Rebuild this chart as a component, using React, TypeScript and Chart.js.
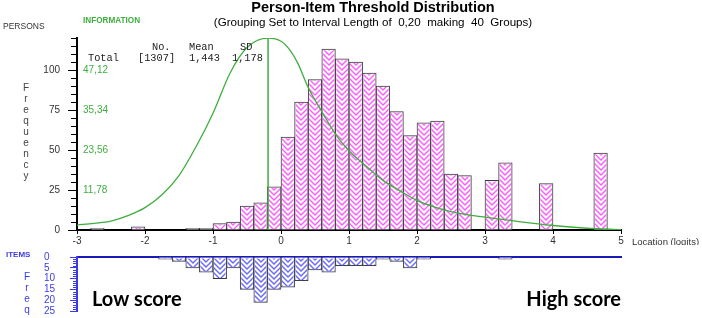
import React, { useEffect, useRef } from 'react';
import { Chart, registerables } from 'chart.js';

Chart.register(...registerables);

// ---------------- data ----------------
const BIN_START = -3;
const BIN_WIDTH = 0.2;
// persons per 0.2-logit bin, bins starting at -3.0, -2.8, ... 4.8
const PERSON_COUNTS = [
  0, 1, 0, 0, 2, 0, 0, 0,
  1, 1, 4, 5, 15, 17, 27,
  58, 80, 94, 113, 107, 105, 98, 90, 74, 59, 67, 68, 35, 34,
  0, 31, 42, 0, 0, 29, 0, 0, 0, 48, 0,
];
// item thresholds per bin (same bins)
const ITEM_COUNTS = [
  0, 0, 0, 0, 0, 0, 1, 2,
  5, 7, 10, 5, 15, 21, 15,
  14, 11, 6, 7, 4, 4, 4, 1, 2, 5, 1,
  0, 0, 0, 0, 0, 1, 0, 0, 0, 0, 0, 0, 0, 0,
];
// test information curve (information units, right-hand green scale)
const INFO_X = [-3, -2.75, -2.5, -2.25, -2, -1.75, -1.5, -1.25, -1, -0.75, -0.5, -0.19, 0, 0.14, 0.25, 0.4, 0.6, 0.8, 1, 1.25, 1.5, 1.75, 2, 2.25, 2.5, 2.75, 3, 3.5, 4, 4.5, 5];
const INFO_Y = [1.46, 1.98, 2.64, 4.24, 6.6, 10.37, 16.02, 24.5, 34.4, 46.18, 53.72, 56.5, 55.6, 52.77, 49.0, 41.94, 34.87, 28.27, 23.32, 18.85, 14.61, 11.54, 8.72, 6.83, 5.42, 4.48, 3.77, 2.45, 1.32, 0.52, 0.09];
const PEAK_X = -0.19;

const X_MIN = -3;
const X_MAX = 5;
const X_TICKS = [-3, -2, -1, 0, 1, 2, 3, 4, 5];
const PERSON_MAX = 120;
const PERSON_TICKS = [0, 25, 50, 75, 100];
const PERSON_MINOR_STEP = 5;
const INFO_PER_PERSON = 0.4712;
const INFO_TICKS = [11.78, 23.56, 35.34, 47.12];
const ITEM_MAX = 25;
const ITEM_TICKS = [0, 5, 10, 15, 20, 25];
const ITEM_MINOR_STEP = 1;

const STAT_HEAD = ['No.', 'Mean', 'SD'];
const STAT_ROW = 'Total';
const STAT_N = 1307;
const STAT_MEAN = 1.443;
const STAT_SD = 1.178;

const TITLE = 'Person-Item Threshold Distribution';
const SUBTITLE = '(Grouping Set to Interval Length of  0,20  making  40  Groups)';
const FREQ_WORD = 'Frequency';
const FREQ_SHORT = 'Freq';

// ---------------- styles ----------------
const SANS = '"Liberation Sans", Arial, sans-serif';
const MONO = '"Liberation Mono", "Courier New", monospace';
const GREEN = '#3fae3f';
const PINK = '#ff5cff';
const BLUE_TEXT = '#3c3ce6';
const BLUE_LINE = '#1a1ab8';
const BLUE_HATCH = '#6a6aff';
const BAR_EDGE = '#3a3a3a';

const comma = (v: number, d: number) => v.toFixed(d).replace('.', ',');

function hatchBar(ctx: CanvasRenderingContext2D, el: any, color: string) {
  const { x, y, base, width } = el.getProps(['x', 'y', 'base', 'width'], true);
  const l = x - width / 2;
  const r = x + width / 2;
  const t = Math.min(y, base);
  const b = Math.max(y, base);
  if (b - t < 1.5) return;
  ctx.save();
  ctx.beginPath();
  ctx.rect(l + 1, t + 1, r - l - 2, b - t - 1.5);
  ctx.clip();
  ctx.strokeStyle = color;
  ctx.lineWidth = 1.4;
  const m = Math.round((l + r) / 2);
  const hw = m - l;
  const gap = 5;
  ctx.beginPath();
  for (let yy = Math.round(b) + gap * 2; yy > t - hw - gap * 2; yy -= gap) {
    ctx.moveTo(l, yy - hw);
    ctx.lineTo(m, yy);
    ctx.lineTo(r, yy - (r - m));
  }
  ctx.stroke();
  ctx.restore();
}

const hatchPlugin = {
  id: 'hatch',
  afterDatasetDraw(chart: any, args: any) {
    const ds = chart.data.datasets[args.index];
    if (!ds.hatchColor) return;
    args.meta.data.forEach((el: any) => hatchBar(chart.ctx, el, ds.hatchColor));
  },
};

function minorTicks(chart: any, id: string, max: number, step: number, majors: number[], len: number, color: string) {
  const s = chart.scales[id];
  const ctx = chart.ctx;
  const x0 = chart.chartArea.left - 1;
  ctx.save();
  ctx.strokeStyle = color;
  ctx.lineWidth = 1;
  ctx.beginPath();
  for (let v = 0; v <= max + 1e-9; v += step) {
    if (majors.includes(v)) continue;
    const py = Math.round(s.getPixelForValue(v)) + 0.5;
    ctx.moveTo(x0 - len, py);
    ctx.lineTo(x0, py);
  }
  ctx.stroke();
  ctx.restore();
}

const topTextPlugin = {
  id: 'topText',
  afterDraw(chart: any) {
    const ctx = chart.ctx;
    const { right, bottom } = chart.chartArea;
    minorTicks(chart, 'y', PERSON_MAX, PERSON_MINOR_STEP, PERSON_TICKS, 5, '#000');
    ctx.save();
    ctx.textBaseline = 'middle';
    ctx.fillStyle = '#000';
    ctx.textAlign = 'center';
    ctx.font = `bold 14.5px ${SANS}`;
    ctx.fillText(TITLE, 373, 8);
    ctx.font = `11.6px ${SANS}`;
    ctx.fillText(SUBTITLE, 373, 23);

    ctx.textAlign = 'left';
    ctx.fillStyle = '#333';
    ctx.font = `8.5px ${SANS}`;
    ctx.fillText('PERSONS', 3, 27);
    ctx.fillStyle = GREEN;
    ctx.font = `bold 8.2px ${SANS}`;
    ctx.fillText('INFORMATION', 83, 21);

    ctx.fillStyle = '#444';
    ctx.textAlign = 'center';
    ctx.font = `10px ${SANS}`;
    FREQ_WORD.split('').forEach((ch, i) => ctx.fillText(ch, 26, 88 + i * 11));

    ctx.textAlign = 'left';
    ctx.fillStyle = '#222';
    ctx.font = `10.3px ${MONO}`;
    ctx.fillText(STAT_HEAD[0], 152, 47);
    ctx.fillText(STAT_HEAD[1], 189, 47);
    ctx.fillText(STAT_HEAD[2], 240, 47);
    ctx.fillText(STAT_ROW, 88, 58);
    ctx.fillText(`[${STAT_N}]`, 138, 58);
    ctx.fillText(comma(STAT_MEAN, 3), 189, 58);
    ctx.fillText(comma(STAT_SD, 3), 232, 58);

    ctx.fillStyle = '#333';
    ctx.font = `9.5px ${SANS}`;
    ctx.fillText('Location (logits)', right + 11, bottom + 12);
    ctx.restore();
  },
};

const botTextPlugin = {
  id: 'botText',
  afterDraw(chart: any) {
    const ctx = chart.ctx;
    const { left, right } = chart.chartArea;
    const ys = chart.scales.y;
    minorTicks(chart, 'y', ITEM_MAX, ITEM_MINOR_STEP, ITEM_TICKS, 3, BLUE_TEXT);
    ctx.save();
    ctx.textBaseline = 'middle';
    ctx.fillStyle = BLUE_TEXT;
    ctx.textAlign = 'left';
    ctx.font = `bold 8px ${SANS}`;
    ctx.fillText('ITEMS', 6, ys.getPixelForValue(0) - 2);
    ctx.textAlign = 'center';
    ctx.font = `10px ${SANS}`;
    FREQ_SHORT.split('').forEach((ch, i) => ctx.fillText(ch, 27, ys.getPixelForValue(ITEM_TICKS[i + 2]) - 1));

    ctx.fillStyle = '#000';
    ctx.font = `bold 20px Lato, "Open Sans", sans-serif`;
    ctx.textAlign = 'left';
    ctx.fillText('Low score', left + 15, 55);
    ctx.textAlign = 'right';
    ctx.fillText('High score', right, 55);
    ctx.restore();
  },
};

const binCenters = PERSON_COUNTS.map((_, i) => BIN_START + BIN_WIDTH * (i + 0.5));
const setTicks = (vals: number[]) => (s: any) => {
  s.ticks = vals.map((v) => ({ value: v }));
};

export default function App() {
  const topRef = useRef<HTMLCanvasElement>(null);
  const botRef = useRef<HTMLCanvasElement>(null);

  useEffect(() => {
    Chart.defaults.font.family = SANS;
    const infoMax = PERSON_MAX * INFO_PER_PERSON;
    const peak = Math.max(...INFO_Y);

    const top = new Chart(topRef.current as HTMLCanvasElement, {
      type: 'bar',
      data: {
        datasets: [
          {
            type: 'line',
            data: INFO_X.map((x, i) => ({ x, y: INFO_Y[i] })),
            yAxisID: 'y2',
            borderColor: GREEN,
            borderWidth: 1.3,
            pointRadius: 0,
            cubicInterpolationMode: 'monotone',
            order: 0,
          } as any,
          {
            type: 'line',
            data: [{ x: PEAK_X, y: 0 }, { x: PEAK_X, y: peak }],
            yAxisID: 'y2',
            borderColor: GREEN,
            borderWidth: 1.5,
            pointRadius: 0,
            order: 0,
          } as any,
          {
            type: 'bar',
            data: PERSON_COUNTS.map((v, i) => ({ x: binCenters[i], y: v })),
            yAxisID: 'y',
            backgroundColor: '#ffffff',
            borderColor: BAR_EDGE,
            borderWidth: 1,
            borderSkipped: 'start',
            barPercentage: 1,
            categoryPercentage: 1,
            hatchColor: PINK,
            order: 1,
          } as any,
        ],
      },
      options: {
        responsive: false,
        animation: false,
        layout: { padding: { left: 0, right: 81, top: 38, bottom: 0 } },
        plugins: { legend: { display: false }, title: { display: false }, tooltip: { enabled: false } },
        scales: {
          x: {
            type: 'linear',
            min: X_MIN,
            max: X_MAX,
            offset: false,
            afterBuildTicks: setTicks(X_TICKS),
            grid: { display: true, drawOnChartArea: false, drawTicks: true, tickLength: 4, tickColor: '#000', offset: false },
            border: { display: true, color: '#000', width: 2 },
            ticks: { color: '#333', font: { size: 10 }, padding: 1, maxRotation: 0, autoSkip: false },
            afterFit: (s: any) => { s.height = 15; },
          },
          y: {
            type: 'linear',
            position: 'left',
            weight: 1,
            min: 0,
            max: PERSON_MAX,
            afterBuildTicks: setTicks(PERSON_TICKS),
            grid: { display: true, drawOnChartArea: false, drawTicks: true, tickLength: 9, tickColor: '#000' },
            border: { display: true, color: '#000', width: 2 },
            ticks: { color: '#333', font: { size: 10 }, padding: 8, autoSkip: false },
            afterFit: (s: any) => { s.width = 77; },
          },
          y2: {
            type: 'linear',
            position: 'left',
            weight: 0,
            min: 0,
            max: infoMax,
            afterBuildTicks: setTicks(INFO_TICKS),
            grid: { display: false, drawTicks: false },
            border: { display: false },
            ticks: { mirror: true, padding: 6, color: GREEN, font: { size: 10 }, autoSkip: false, callback: (v: any) => comma(Number(v), 2) },
            afterFit: (s: any) => { s.width = 0; },
          },
        },
      } as any,
      plugins: [hatchPlugin, topTextPlugin],
    });

    const bot = new Chart(botRef.current as HTMLCanvasElement, {
      type: 'bar',
      data: {
        datasets: [
          {
            type: 'bar',
            data: ITEM_COUNTS.map((v, i) => ({ x: binCenters[i], y: v })),
            backgroundColor: '#ffffff',
            borderColor: BAR_EDGE,
            borderWidth: 1,
            borderSkipped: 'start',
            barPercentage: 1,
            categoryPercentage: 1,
            hatchColor: BLUE_HATCH,
          } as any,
        ],
      },
      options: {
        responsive: false,
        animation: false,
        layout: { padding: { left: 44, right: 81, top: 12, bottom: 6 } },
        plugins: { legend: { display: false }, title: { display: false }, tooltip: { enabled: false } },
        scales: {
          x: {
            type: 'linear',
            position: 'top',
            min: X_MIN,
            max: X_MAX,
            offset: false,
            ticks: { display: false },
            grid: { display: false, drawTicks: false, offset: false },
            border: { display: true, color: BLUE_LINE, width: 2 },
            afterFit: (s: any) => { s.height = 0; },
          },
          y: {
            type: 'linear',
            position: 'left',
            min: 0,
            max: ITEM_MAX,
            reverse: true,
            afterBuildTicks: setTicks(ITEM_TICKS),
            grid: { display: true, drawOnChartArea: false, drawTicks: true, tickLength: 7, tickColor: BLUE_TEXT },
            border: { display: true, color: BLUE_TEXT, width: 2 },
            ticks: { color: BLUE_TEXT, font: { size: 10, lineHeight: 1 }, crossAlign: 'far', padding: 2, autoSkip: false },
            afterFit: (s: any) => { s.width = 33; },
          },
        },
      } as any,
      plugins: [hatchPlugin, botTextPlugin],
    });

    return () => {
      top.destroy();
      bot.destroy();
    };
  }, []);

  return (
    <div style={{ position: 'fixed', left: 0, top: 0, width: 702, height: 318, background: '#fff' }}>
      <canvas ref={topRef} width={702} height={245} style={{ position: 'absolute', left: 0, top: 0 }} />
      <canvas ref={botRef} width={702} height={73} style={{ position: 'absolute', left: 0, top: 245 }} />
    </div>
  );
}
